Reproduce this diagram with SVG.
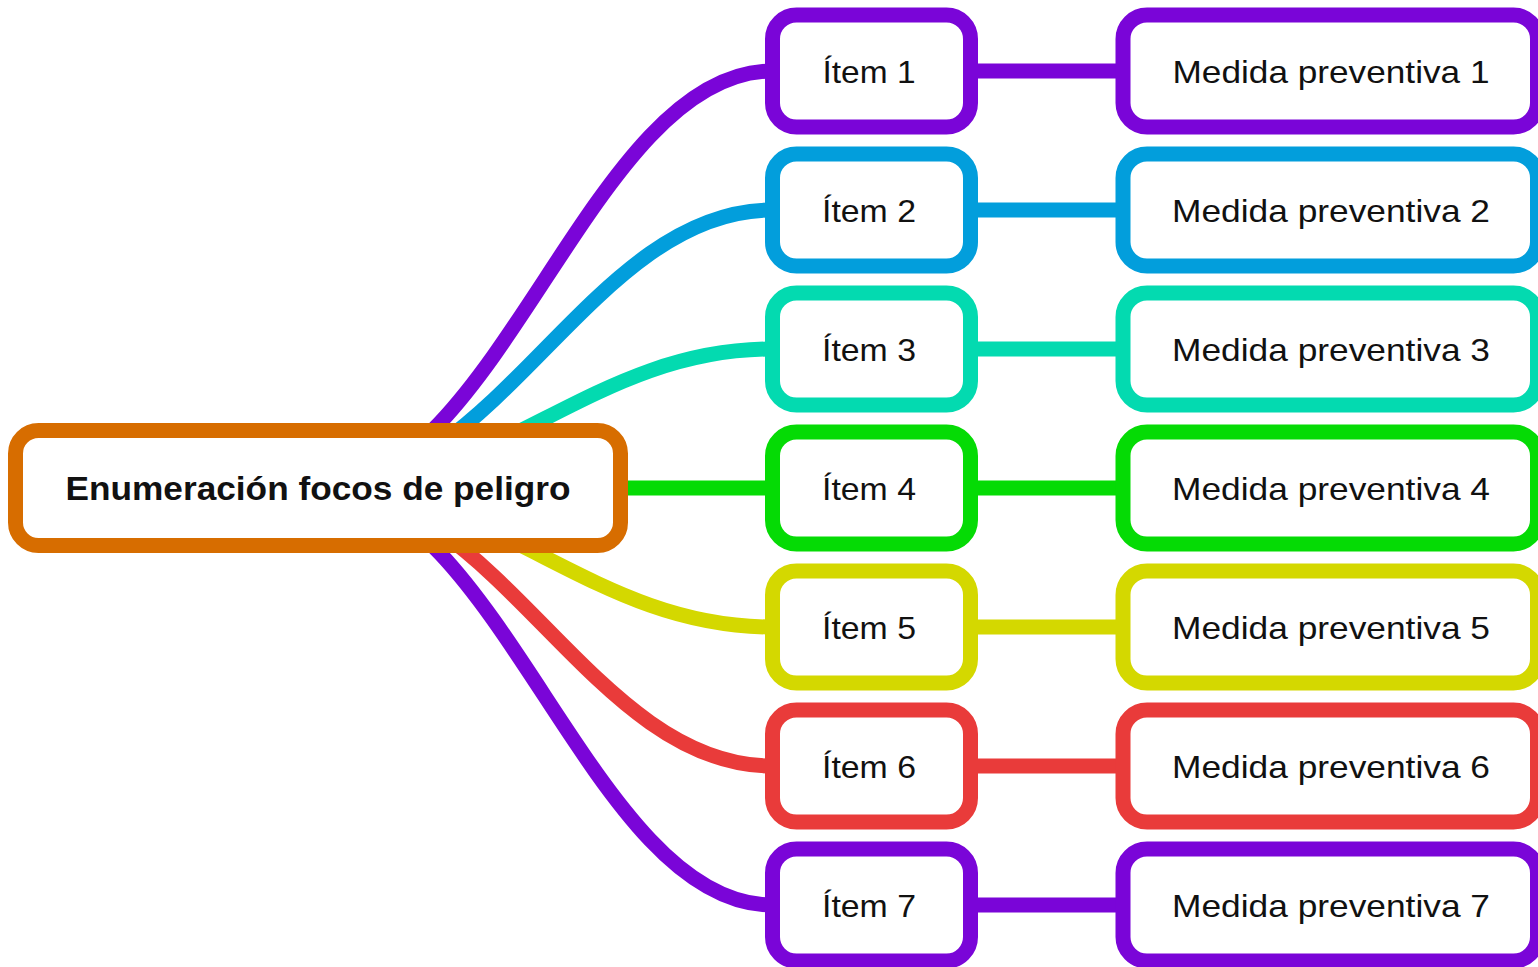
<svg xmlns="http://www.w3.org/2000/svg" width="1538" height="967" viewBox="0 0 1538 967">
<style>
.box{fill:#fff;stroke-width:15}
.c{fill:none;stroke-width:15}
.t{font-family:"Liberation Sans",Arial,Helvetica,sans-serif;font-size:32px;fill:#111;text-anchor:middle}
.root{font-size:34px;font-weight:bold}
.p{stroke:#7a05d8}.b{stroke:#029edc}.q{stroke:#03dab0}.g{stroke:#05db05}.y{stroke:#d4d800}.r{stroke:#e93b3a}.o{stroke:#d76d00}
</style>
<rect width="1538" height="967" fill="#fff"/>
<g id="connectors">
<path class="c p" d="M318,488 C499,488 591,71 772,71"/>
<path class="c b" d="M318,488 C499,488 591,210 772,210"/>
<path class="c q" d="M318,488 C499,488 591,349 772,349"/>
<path class="c g" d="M600,488 H772"/>
<path class="c y" d="M318,488 C499,488 591,627 772,627"/>
<path class="c r" d="M318,488 C499,488 591,766 772,766"/>
<path class="c p" d="M318,488 C499,488 591,905 772,905"/>
<path class="c p" d="M965,71 H1130"/>
<path class="c b" d="M965,210 H1130"/>
<path class="c q" d="M965,349 H1130"/>
<path class="c g" d="M965,488 H1130"/>
<path class="c y" d="M965,627 H1130"/>
<path class="c r" d="M965,766 H1130"/>
<path class="c p" d="M965,905 H1130"/>
</g>
<g id="root">
<rect class="box o" x="15.5" y="430.5" width="605" height="115" rx="23"/>
<text class="t root" x="318" y="500" textLength="505" lengthAdjust="spacingAndGlyphs">Enumeración focos de peligro</text>
</g>
<g id="item1"><rect class="box p" x="772.5" y="15" width="198" height="112" rx="24"/><text class="t" x="869" y="83" textLength="93" lengthAdjust="spacingAndGlyphs">Ítem 1</text></g>
<g id="item2"><rect class="box b" x="772.5" y="154" width="198" height="112" rx="24"/><text class="t" x="869" y="222" textLength="94" lengthAdjust="spacingAndGlyphs">Ítem 2</text></g>
<g id="item3"><rect class="box q" x="772.5" y="293" width="198" height="112" rx="24"/><text class="t" x="869" y="361" textLength="94" lengthAdjust="spacingAndGlyphs">Ítem 3</text></g>
<g id="item4"><rect class="box g" x="772.5" y="432" width="198" height="112" rx="24"/><text class="t" x="869" y="500" textLength="94" lengthAdjust="spacingAndGlyphs">Ítem 4</text></g>
<g id="item5"><rect class="box y" x="772.5" y="571" width="198" height="112" rx="24"/><text class="t" x="869" y="639" textLength="94" lengthAdjust="spacingAndGlyphs">Ítem 5</text></g>
<g id="item6"><rect class="box r" x="772.5" y="710" width="198" height="112" rx="24"/><text class="t" x="869" y="778" textLength="94" lengthAdjust="spacingAndGlyphs">Ítem 6</text></g>
<g id="item7"><rect class="box p" x="772.5" y="849" width="198" height="112" rx="24"/><text class="t" x="869" y="917" textLength="94" lengthAdjust="spacingAndGlyphs">Ítem 7</text></g>
<g id="medida1"><rect class="box p" x="1123" y="15" width="414.5" height="112" rx="24"/><text class="t" x="1331" y="83" textLength="317" lengthAdjust="spacingAndGlyphs">Medida preventiva 1</text></g>
<g id="medida2"><rect class="box b" x="1123" y="154" width="414.5" height="112" rx="24"/><text class="t" x="1331" y="222" textLength="318" lengthAdjust="spacingAndGlyphs">Medida preventiva 2</text></g>
<g id="medida3"><rect class="box q" x="1123" y="293" width="414.5" height="112" rx="24"/><text class="t" x="1331" y="361" textLength="318" lengthAdjust="spacingAndGlyphs">Medida preventiva 3</text></g>
<g id="medida4"><rect class="box g" x="1123" y="432" width="414.5" height="112" rx="24"/><text class="t" x="1331" y="500" textLength="318" lengthAdjust="spacingAndGlyphs">Medida preventiva 4</text></g>
<g id="medida5"><rect class="box y" x="1123" y="571" width="414.5" height="112" rx="24"/><text class="t" x="1331" y="639" textLength="318" lengthAdjust="spacingAndGlyphs">Medida preventiva 5</text></g>
<g id="medida6"><rect class="box r" x="1123" y="710" width="414.5" height="112" rx="24"/><text class="t" x="1331" y="778" textLength="318" lengthAdjust="spacingAndGlyphs">Medida preventiva 6</text></g>
<g id="medida7"><rect class="box p" x="1123" y="849" width="414.5" height="112" rx="24"/><text class="t" x="1331" y="917" textLength="318" lengthAdjust="spacingAndGlyphs">Medida preventiva 7</text></g>
</svg>
